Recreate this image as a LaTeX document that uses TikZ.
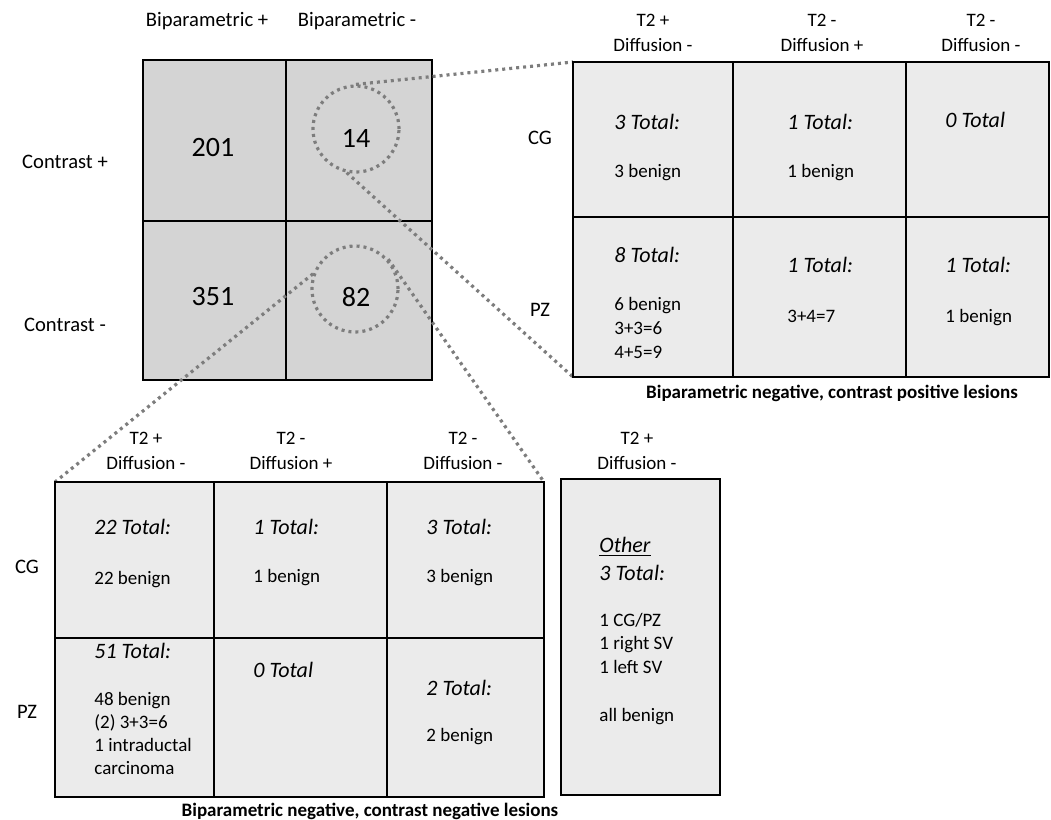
\documentclass[tikz,border=0pt]{standalone}
\usepackage{fontspec}
\setmainfont{Carlito}
\usepackage{tikz}
\usepackage{xcolor}

\definecolor{gridgray}{RGB}{212,212,212}
\definecolor{cellgray}{RGB}{235,235,235}
\definecolor{dotgray}{RGB}{125,125,125}

\begin{document}
\begin{tikzpicture}[x=0.5pt,y=-0.5pt,
    box/.style={draw=black, line width=1pt},
    zoomline/.style={draw=dotgray, line width=1.6pt, dash pattern=on 1.5pt off 2pt},
    ring/.style={zoomline, circle, minimum size=43pt, inner sep=0pt},
    lbl/.style={inner sep=0pt, font=\fontsize{10.3}{12}\selectfont},
    bignum/.style={inner sep=0pt, font=\fontsize{14}{16}\selectfont},
    colhead/.style={inner sep=0pt, align=center, font=\fontsize{9.5}{12.5}\selectfont},
    total/.style={inner sep=0pt, anchor=west, font=\fontsize{11}{13}\selectfont\itshape},
    body/.style={inner sep=0pt, anchor=west, align=left, font=\fontsize{9.5}{11.5}\selectfont},
    caption/.style={inner sep=0pt, font=\fontsize{9.5}{11}\selectfont\bfseries}]

    \useasboundingbox (0,0) rectangle (1051,820);

    % Draw the 2x2 grid
    \coordinate (mNW) at (143,60);
    \coordinate (mSE) at (432,380);
    \fill[gridgray] (mNW) rectangle (mSE);
    \draw[box] (mNW) rectangle (mSE);
    \draw[box] (286,60) -- (286,380);
    \draw[box] (143,221) -- (432,221);

    \node[lbl] (bpPlus) at (207,21) {Biparametric +};
    \node[lbl] (bpMinus) at (357,21) {Biparametric -};
    \node[lbl] (ctPlus) at (65,162) {Contrast +};
    \node[lbl] (ctMinus) at (65,325) {Contrast -};

    \node[bignum] (n201) at (213,148) {201};
    \node[bignum] (n14) at (356,138) {14};
    \node[bignum] (n351) at (213,297) {351};
    \node[bignum] (n82) at (356,297) {82};

    % Circles round the two cells
    \node[ring] (ring14) at (356,129) {};
    \node[ring] (ring82) at (355,289) {};

    % Corners of the two tables
    \coordinate (rtNW) at (573,62);
    \coordinate (rtSW) at (573,377);
    \coordinate (btNW) at (55,482);
    \coordinate (btNE) at (544,482);

    % Draw the zoom lines
    \draw[zoomline] (ring14.north) -- (rtNW);
    \draw[zoomline] (ring14.258) -- (rtSW);
    \draw[zoomline] (ring82.160) -- (btNW);
    \draw[zoomline] (ring82.42) -- (btNE);

    % Draw the right table
    \fill[cellgray] (rtNW) rectangle (1049,377);
    \draw[box] (rtNW) rectangle (1049,377);
    \foreach \x in {733,906}
        \draw[box] (\x,62) -- (\x,377);
    \draw[box] (573,217) -- (1049,217);

    \foreach \x/\t/\d [count=\i] in {653/{T2 +}/{Diffusion -}, 822/{T2 -}/{Diffusion +}, 981/{T2 -}/{Diffusion -}}
        \node[colhead] (rHead\i) at (\x,33) {\t\\\d};

    \node[lbl] (rCG) at (540,138) {CG};
    \node[lbl] (rPZ) at (540,310) {PZ};

    \node[total] (rT11) at (614,122) {3 Total:};
    \node[body] (rB11) at (614,173) {3 benign};
    \node[total] (rT12) at (787,122) {1 Total:};
    \node[body] (rB12) at (787,173) {1 benign};
    \node[total] (rT13) at (945,120) {0 Total};
    \node[total] (rT21) at (614,255) {8 Total:};
    \node[body, font=\fontsize{9.5}{12}\selectfont] (rB21) at (614,328) {6 benign\\3+3=6\\4+5=9};
    \node[total] (rT22) at (787,265) {1 Total:};
    \node[body] (rB22) at (787,316) {3+4=7};
    \node[total] (rT23) at (945,265) {1 Total:};
    \node[body] (rB23) at (945,318) {1 benign};

    \node[caption] (rCap) at (832,393) {Biparametric negative, contrast positive lesions};

    % Draw the bottom table
    \fill[cellgray] (btNW) rectangle (544,797);
    \draw[box] (btNW) rectangle (544,797);
    \foreach \x in {214,387}
        \draw[box] (\x,482) -- (\x,797);
    \draw[box] (55,638) -- (544,638);

    \foreach \x/\t/\d [count=\i] in {146/{T2 +}/{Diffusion -}, 291/{T2 -}/{Diffusion +}, 463/{T2 -}/{Diffusion -}, 637/{T2 +}/{Diffusion -}}
        \node[colhead] (bHead\i) at (\x,451) {\t\\\d};

    \node[lbl] (bCG) at (27,567) {CG};
    \node[lbl] (bPZ) at (27,712) {PZ};

    \node[total] (bT11) at (94,527) {22 Total:};
    \node[body] (bB11) at (94,580) {22 benign};
    \node[total] (bT12) at (253,527) {1 Total:};
    \node[body] (bB12) at (253,578) {1 benign};
    \node[total] (bT13) at (426,527) {3 Total:};
    \node[body] (bB13) at (426,578) {3 benign};
    \node[total] (bT21) at (94,651) {51 Total:};
    \node[body] (bB21) at (94,733) {48 benign\\(2) 3+3=6\\1 intraductal\\carcinoma};
    \node[total] (bT22) at (253,670) {0 Total};
    \node[total] (bT23) at (426,688) {2 Total:};
    \node[body] (bB23) at (426,737) {2 benign};

    % The other box
    \fill[cellgray] (561,479) rectangle (720,795);
    \draw[box] (561,479) rectangle (720,795);
    \node[total] (oHead) at (599,547) {\underline{Other}};
    \node[total] (oT) at (599,573) {3 Total:};
    \node[body, font=\fontsize{9.5}{11.75}\selectfont] (oB) at (599,643) {1 CG/PZ\\1 right SV\\1 left SV};
    \node[body] (oAll) at (599,717) {all benign};

    \node[caption] (bCap) at (370,811) {Biparametric negative, contrast negative lesions};
\end{tikzpicture}
\end{document}
